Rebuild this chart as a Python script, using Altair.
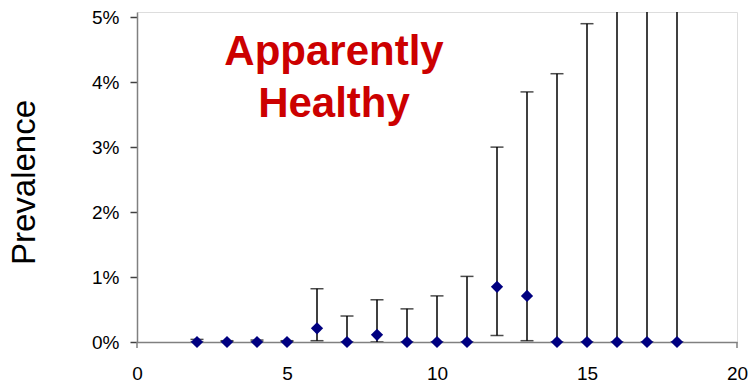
import altair as alt
import pandas as pd

# Score (x), observed prevalence and its confidence bounds
scores = [2, 3, 4, 5, 6, 7, 8, 9, 10, 11, 12, 13, 14, 15, 16, 17, 18]
prevalence = [0.0, 0.0, 0.0, 0.0, 0.0021, 0.0, 0.0011, 0.0, 0.0, 0.0, 0.0085, 0.0071,
              0.0, 0.0, 0.0, 0.0, 0.0]
lower_ci = [0.0, 0.0, 0.0, 0.0, 0.0002, 0.0, 0.0, 0.0, 0.0, 0.0, 0.0010, 0.0002,
            0.0, 0.0, 0.0, 0.0, 0.0]
upper_ci = [0.0004, 0.0002, 0.0003, 0.0002, 0.0082, 0.0040, 0.0065, 0.0051, 0.0071, 0.0101,
            0.0300, 0.0385, 0.0413, 0.0490, 0.0590, 0.0660, 0.0720]

x_ticks = [0, 5, 10, 15, 20]
y_ticks = [0.0, 0.01, 0.02, 0.03, 0.04, 0.05]
x_ends = [0, 20]
panel_label = ["Apparently", "Healthy"]

df = pd.DataFrame({"score": scores, "prev": prevalence, "lo": lower_ci, "hi": upper_ci})
ends = pd.DataFrame({"score": x_ends})
one_row = pd.DataFrame({"k": [0]})

FONT = "Liberation Sans"
W, H = 600, 330

x_scale = alt.Scale(domain=[0, 20], nice=False)
y_scale = alt.Scale(domain=[0, 0.0508], nice=False, zero=True)

x_enc = alt.X(
    "score:Q", scale=x_scale,
    axis=alt.Axis(values=x_ticks, ticks=False, grid=False, title=None,
                  labelFont=FONT, labelFontSize=19, labelColor="black",
                  labelPadding=22, labelFlush=False,
                  domainColor="#808080", domainWidth=1.5),
)
y_axis = alt.Axis(values=y_ticks, format=".0%", grid=False, title="Prevalence",
                  labelFont=FONT, labelFontSize=19, labelColor="black", labelPadding=11,
                  labelFlush=False,
                  tickSize=7, tickColor="#404040", tickWidth=1.5,
                  domainColor="#808080", domainWidth=1.5,
                  titleFont=FONT, titleFontSize=33, titleFontWeight="normal",
                  titleColor="black", titleAngle=-90, titleX=-103, titleY=170,
                  titleAlign="center", titleBaseline="alphabetic")

base = alt.Chart(df)

bars = base.mark_rule(color="black", strokeWidth=1.5, clip=True).encode(
    x=x_enc,
    y=alt.Y("lo:Q", scale=y_scale, axis=y_axis),
    y2="hi:Q",
)

caps_hi = base.mark_tick(color="black", size=13, thickness=1.5, orient="horizontal",
                         clip=True).encode(x="score:Q", y=alt.Y("hi:Q"))
caps_lo = base.mark_tick(color="black", size=13, thickness=1.5, orient="horizontal",
                         clip=True).encode(x="score:Q", y=alt.Y("lo:Q"))

points = base.mark_point(shape="diamond", filled=True, color="#000080", size=150,
                         opacity=1).encode(x="score:Q", y=alt.Y("prev:Q"))

end_ticks = alt.Chart(ends).mark_rule(color="#808080", strokeWidth=1.5).encode(
    x="score:Q", y=alt.value(H), y2=alt.value(H + 6)
)

label = alt.Chart(one_row).mark_text(
    text=panel_label, font=FONT, fontSize=42, fontWeight="bold",
    color="#CC0000", align="center", baseline="alphabetic", lineHeight=52,
).encode(x=alt.value(197), y=alt.value(53))

chart = alt.layer(bars, end_ticks, caps_lo, caps_hi, points, label).properties(
    width=W, height=H,
    autosize=alt.AutoSizeParams(type="none"),
    padding={"left": 137, "top": 12, "right": 14, "bottom": 45},
).configure_view(stroke=None).configure(background="white")

chart.save("out.html", embed_options={"renderer": "svg", "actions": False})
